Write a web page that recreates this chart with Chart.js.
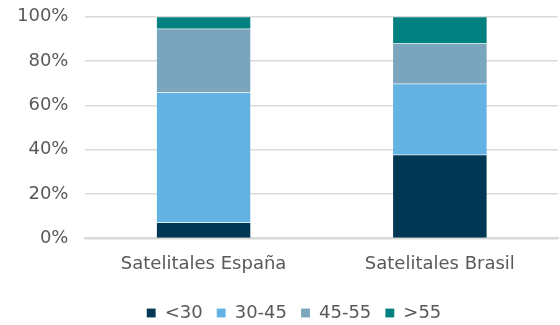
<!DOCTYPE html>
<html>
<head>
<meta charset="utf-8">
<script src="https://cdn.jsdelivr.net/npm/chart.js@4/dist/chart.umd.min.js"></script>
<style>
  html, body { margin: 0; padding: 0; background: #fff; overflow: hidden; }
  #wrap { width: 560px; height: 343px; margin-top: -11px; }
</style>
</head>
<body>
<div id="wrap"><canvas id="chart"></canvas></div>
<script>
// data
const categories = ['Satelitales España', 'Satelitales Brasil'];
const seriesNames = ['<30', '30-45', '45-55', '>55'];
const under30 = [7.2, 37.8];
const from30to45 = [58.6, 32.0];
const from45to55 = [28.8, 18.1];
const over55 = [5.4, 12.1];
const yTicks = [0, 20, 40, 60, 80, 100];

const colors = ['#003755', '#62b3e4', '#7ba5bc', '#00807f'];
const values = [under30, from30to45, from45to55, over55];

Chart.defaults.font.family = "'DejaVu Sans', Verdana, sans-serif";
Chart.defaults.font.size = 18;
Chart.defaults.color = '#595959';

// legend sits a bit right of the canvas centre in the original
const legendShift = {
    id: 'legendShift',
    afterLayout: function(chart) {
        chart.legend.left += 15;
        chart.legend.right += 15;
    }
};

const ctx = document.getElementById('chart').getContext('2d');
const chart = new Chart(ctx, {
    type: 'bar',
    data: {
        labels: categories,
        datasets: seriesNames.map(function(name, i) {
            return {
                label: name,
                data: values[i],
                backgroundColor: colors[i],
                borderColor: 'rgba(255,255,255,0.35)',
                borderWidth: 0.5,
                categoryPercentage: 0.8,
                barPercentage: 0.5
            };
        })
    },
    options: {
        responsive: true,
        maintainAspectRatio: false,
        animation: false,
        layout: {
            padding: { top: 0, right: 2, left: 0, bottom: 0 }
        },
        scales: {
            x: {
                stacked: true,
                grid: { display: false, drawTicks: false },
                border: { color: '#d9d9d9', width: 2 },
                ticks: { padding: 15 }
            },
            y: {
                stacked: true,
                min: 0,
                max: 100,
                afterBuildTicks: function(axis) {
                    axis.ticks = yTicks.map(function(v) { return { value: v }; });
                },
                grid: { color: '#d9d9d9', lineWidth: 1.5, drawTicks: false },
                border: { display: false },
                ticks: {
                    padding: 17,
                    callback: function(value) { return value + '%'; }
                }
            }
        },
        plugins: {
            legend: {
                position: 'bottom',
                labels: {
                    boxWidth: 9,
                    boxHeight: 9,
                    padding: 14,
                    color: '#595959'
                }
            },
            tooltip: { enabled: false }
        }
    },
    plugins: [legendShift]
});
</script>
</body>
</html>
